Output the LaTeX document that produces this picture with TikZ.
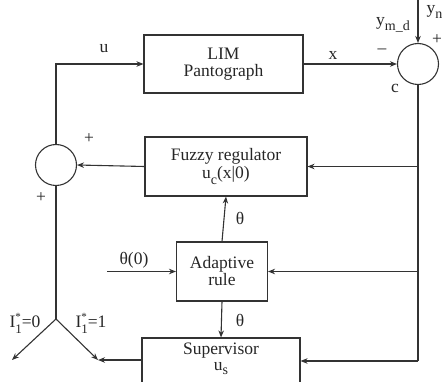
\documentclass[tikz,border=0pt]{standalone}
\usepackage{fontspec}
\setmainfont{Liberation Serif}
\usetikzlibrary{arrows.meta}
\newcommand{\sbs}[1]{\raisebox{-0.3em}{\fontsize{14}{14}\selectfont #1}}
\newcommand{\sbt}[1]{\raisebox{-0.22em}{\fontsize{14}{14}\selectfont #1}}
\newcommand{\Ilab}[1]{I\makebox[0pt][l]{\raisebox{0.45em}{\fontsize{11}{11}\selectfont *}}\raisebox{-0.3em}{\fontsize{13}{13}\selectfont 1}=#1}
\begin{document}
\begin{tikzpicture}[x=1pt,y=-1pt,
  font=\fontsize{17.5}{19}\selectfont,
  line width=1.1pt, draw=black!80, text=black!85,
  >={Stealth[length=7pt,width=5.5pt]},
  blk/.style={draw, rectangle, align=center, inner sep=0pt},
  sumc/.style={draw, circle, minimum size=41pt, inner sep=0pt},
  lbl/.style={inner sep=0pt}]
\useasboundingbox (0,0) rectangle (442,382);
% blocks
\node[blk, minimum width=159pt, minimum height=58pt] (lim) at (223.5,64) {LIM\\[-2pt]Pantograph};
\node[blk, minimum width=162pt, minimum height=59pt] (fuz) at (226,166.5) {Fuzzy regulator\\[-1pt]u\sbs{c}(x|0)};
\node[blk, minimum width=91pt, minimum height=59pt] (ada) at (222,271.5) {Adaptive\\[-2pt]rule};
\node[blk, minimum width=158pt, minimum height=46pt] (sup) at (221,361) {};
\node[lbl, align=center] (supt) at (221,359) {Supervisor\\[-3pt]u\sbt{s}};
% summing junctions
\node[sumc] (c) at (418,64) {};
\node[sumc] (s) at (56,165) {};
% coordinates
\coordinate (ytop) at (418,0);
\coordinate (j) at (56,319);
\coordinate (t0) at (12,360);
\coordinate (t1) at (98,360);
\coordinate (th0) at (107,271.5);
\coordinate (cb) at (418,361);
% connectors
\draw[->] (s.north) |- (lim.west);
\draw[->] (lim.east) -- (c.west);
\draw[->] (ytop) -- (c.north);
\draw (c.south) -- (cb);
\draw[->] (c.south |- fuz.east) -- (fuz.east);
\draw[->] (c.south |- ada.east) -- (ada.east);
\draw[->] (cb) -- (cb -| sup.east);
\draw[->] (fuz.west) -- (s.east);
\draw (s.south) -- (j);
\draw[->] (j) -- (t0);
\draw[->] (j) -- (t1);
\draw[->] (sup.west |- t1) -- (t1);
\draw[->] (th0) -- (ada.west);
\draw[->] (ada.north) -- (fuz.south);
\draw[->] (ada.south) -- (sup.north);
% labels
\node[lbl] (lu) at (104,49) {u};
\node[lbl] (lx) at (333,55) {x};
\node[lbl] (lm) at (382,51) {--};
\node[lbl] (lymd) at (393,25) {y\sbs{m\_d}};
\node[lbl, anchor=west] (lyn) at (426,12) {y\sbs{n}};
\node[lbl] (lp1) at (437,40) {+};
\node[lbl] (lc) at (395,88) {c};
\node[lbl] (lp2) at (89,139) {+};
\node[lbl] (lp3) at (41,198) {+};
\node[lbl] (li0) at (25,323) {\Ilab{0}};
\node[lbl] (li1) at (91,323) {\Ilab{1}};
\node[lbl] (lth0) at (134,260) {θ(0)};
\node[lbl] (lt1) at (240,218) {θ};
\node[lbl] (lt2) at (240,320) {θ};
\end{tikzpicture}
\end{document}
